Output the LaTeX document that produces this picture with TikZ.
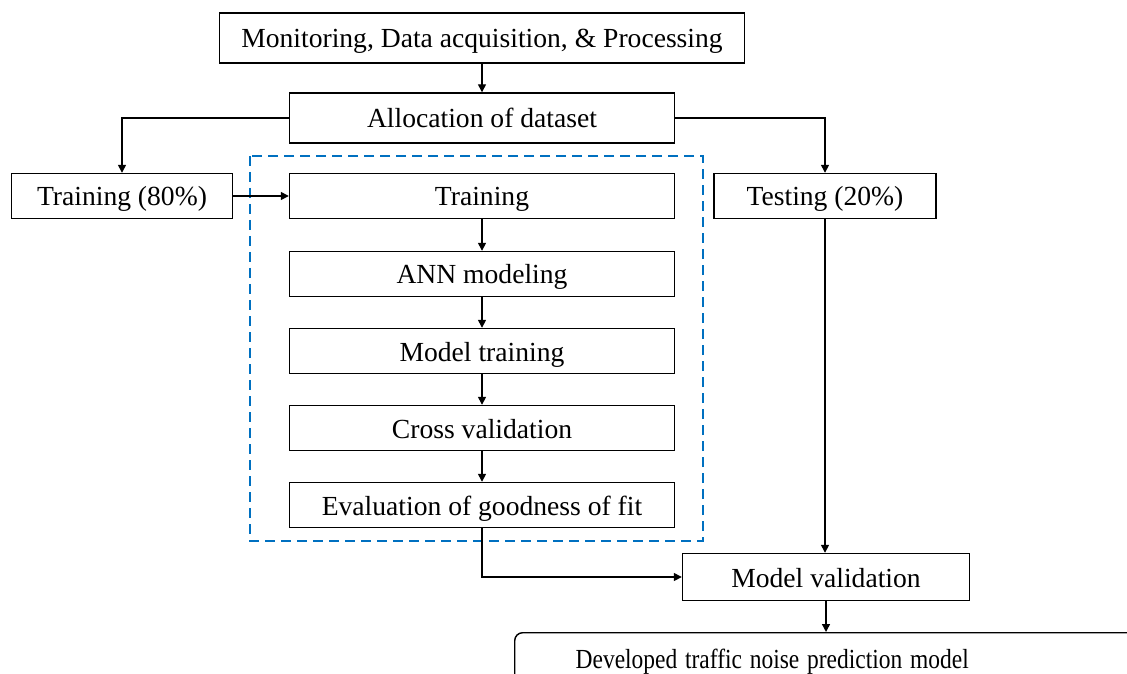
\documentclass[tikz,border=0pt]{standalone}
\usepackage{fontspec}
\usepackage{graphicx}
\setmainfont{Liberation Serif}
\usetikzlibrary{arrows.meta}
\definecolor{dashblue}{RGB}{0,112,192}
\tikzset{
  box/.style={draw, line width=0.7pt, inner sep=0pt, minimum height=22.5pt,
    text height=10pt, text depth=0pt},
  wide/.style={box, minimum width=192.5pt},
  link/.style={-{Triangle[length=4pt,width=4pt]}, line width=0.7pt},
}
\begin{document}
\begin{tikzpicture}[x=0.5pt,y=-0.5pt,font=\fontsize{13.8}{16}\selectfont]
  \clip (0,0) rectangle (1127,673);
  \draw[dashblue, dash pattern=on 5pt off 3pt, line width=0.9pt] (250,156) rectangle (703,541);
  \draw
    (482,38) node[box, minimum width=262.5pt, minimum height=25pt] (0){Monitoring, Data acquisition, \& Processing}
    (482,118) node[wide, minimum height=25pt] (1){Allocation of dataset}
    (122,196) node[box, minimum width=110.5pt] (2){Training (80\%)}
    (825,196) node[box, minimum width=111pt] (3){Testing (20\%)}
    (482,196) node[wide] (4){Training}
    (482,274) node[wide] (5){ANN modeling}
    (482,351) node[wide] (6){Model training}
    (482,428) node[wide] (7){Cross validation}
    (482,505) node[wide] (8){Evaluation of goodness of fit}
    (826,577) node[box, minimum width=143.5pt, minimum height=23.5pt] (9){Model validation}
    (514,632) node[box, anchor=north west, rounded corners=4pt, minimum height=26pt,
      inner xsep=30.5pt, text width=289pt, align=left] (10){\scalebox{0.85}[1]{Developed traffic noise prediction model}};
  \begin{scope}[link]
    \draw (0) -- (1);
    \draw (1.west) -| (2);
    \draw (1.east) -| (3);
    \draw (2) -- (4);
    \draw (4) -- (5);
    \draw (5) -- (6);
    \draw (6) -- (7);
    \draw (7) -- (8);
    \draw (8.south) |- (9);
    \draw (3.south) -- (3.south |- 9.north);
    \draw (9.south) -- (9.south |- 10.north);
  \end{scope}
\end{tikzpicture}
\end{document}
